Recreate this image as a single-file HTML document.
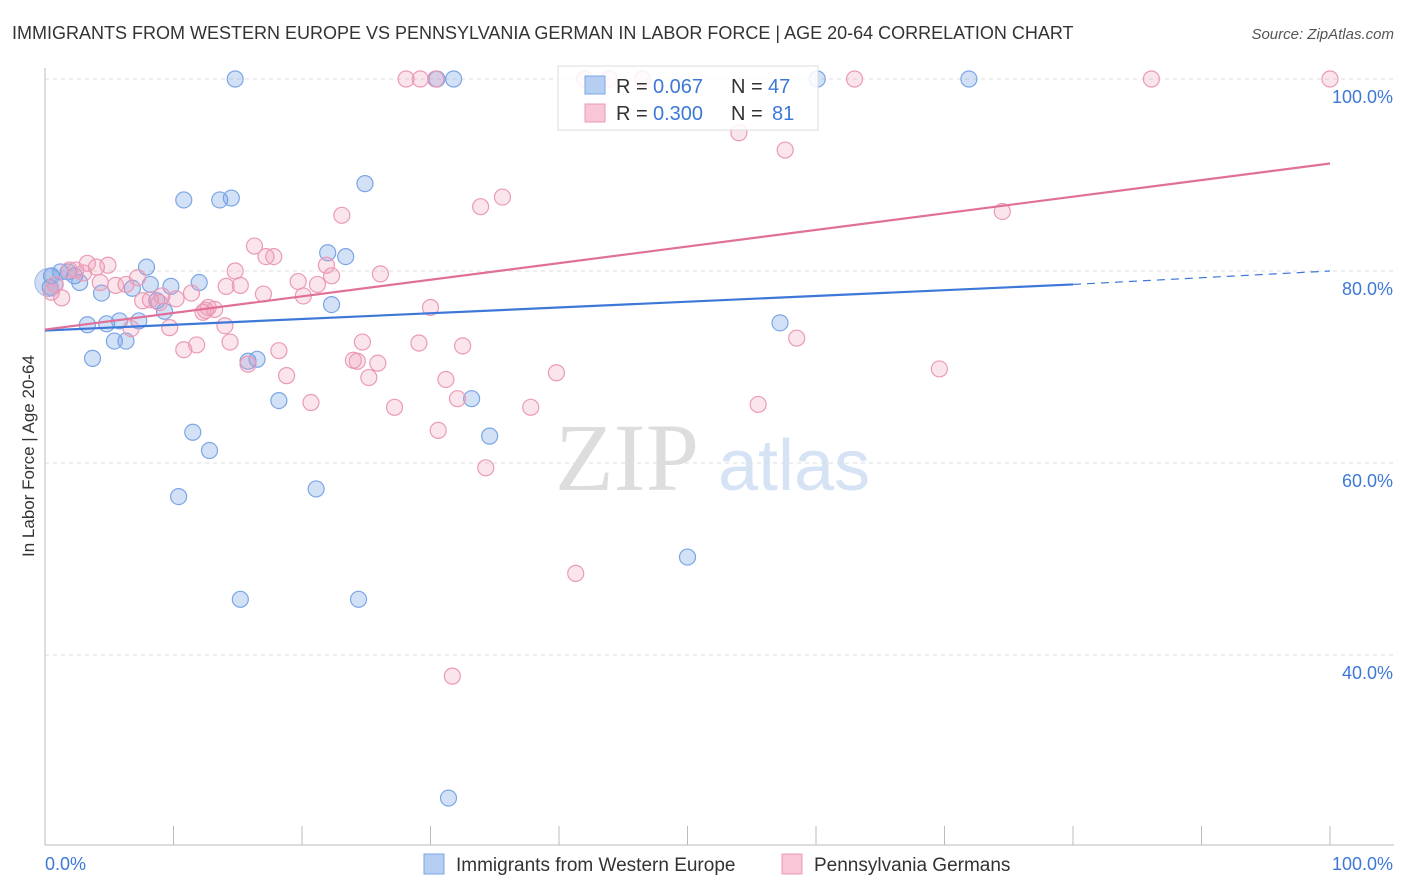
<!DOCTYPE html>
<html><head><meta charset="utf-8"><style>
body{margin:0;background:#fff;font-family:"Liberation Sans",sans-serif;}
svg{display:block}
</style></head><body>
<svg id="chart" width="1406" height="892" xmlns="http://www.w3.org/2000/svg">
<text x="12" y="39" font-size="18" fill="#333">IMMIGRANTS FROM WESTERN EUROPE VS PENNSYLVANIA GERMAN IN LABOR FORCE | AGE 20-64 CORRELATION CHART</text>
<text x="1394" y="39" font-size="15" fill="#555" font-style="italic" text-anchor="end">Source: ZipAtlas.com</text>
<text x="555" y="490" font-size="96" fill="#ddd" font-family="Liberation Serif,serif">ZIP</text>
<text x="718" y="490" font-size="72" fill="#d5e3f5">atlas</text>
<g id="grid"></g><g id="axes"></g><g id="pts"></g><g id="lines"></g>
<text transform="translate(34,456) rotate(-90)" font-size="17" fill="#333" text-anchor="middle">In Labor Force | Age 20-64</text>
<g>
<rect x="558" y="66" width="260" height="64" fill="rgba(255,255,255,0.85)" stroke="#ddd"/>
<rect x="585" y="76" width="20" height="18" fill="#b7cef3" stroke="#7aa6e6"/>
<text x="616" y="93" font-size="20" fill="#333">R =</text><text x="653" y="93" font-size="20" fill="#3d78d8">0.067</text>
<text x="731" y="93" font-size="20" fill="#333">N =</text><text x="768" y="93" font-size="20" fill="#3d78d8">47</text>
<rect x="585" y="104" width="20" height="18" fill="#f8c6d6" stroke="#eb9ab5"/>
<text x="616" y="120" font-size="20" fill="#333">R =</text><text x="653" y="120" font-size="20" fill="#3d78d8">0.300</text>
<text x="731" y="120" font-size="20" fill="#333">N =</text><text x="772" y="120" font-size="20" fill="#3d78d8">81</text>
</g>
<g>
<rect x="424" y="854" width="20" height="20" fill="#b7cef3" stroke="#7aa6e6"/>
<text x="456" y="871" font-size="19" fill="#333">Immigrants from Western Europe</text>
<rect x="782" y="854" width="20" height="20" fill="#f8c6d6" stroke="#eb9ab5"/>
<text x="814" y="871" font-size="19" fill="#333">Pennsylvania Germans</text>
</g>
</svg>
<script>
const blueX=[14.8,30.5,31.8,60.1,71.9,10.8,13.6,14.5,24.9,22,23.4,7.9,0.5,1.2,1.8,2.3,2.7,4.4,6.8,8.2,9.8,12,8.7,9.3,22.3,3.3,4.8,5.8,7.3,5.4,6.3,3.7,15.8,16.5,18.2,33.2,11.5,34.6,12.8,10.4,21.1,50,15.2,24.4,31.4,57.2,0.4];
const blueY=[100,100,100,100,100,87.4,87.4,87.6,89.1,81.9,81.5,80.4,79.5,79.9,79.9,79.5,78.8,77.7,78.2,78.6,78.4,78.8,76.9,75.8,76.5,74.4,74.5,74.8,74.8,72.7,72.7,70.9,70.6,70.8,66.5,66.7,63.2,62.8,61.3,56.5,57.3,50.2,45.8,45.8,25.1,74.6,78.3];
const pinkX=[28.1,29.2,30.4,42,43.9,46.5,63,86.1,100,54,57.6,35.6,33.9,23.1,74.5,16.3,17.2,17.8,14.8,21.9,22.3,26.1,19.7,21.2,20.1,17,3.3,4,4.9,2.4,3,5.5,6.3,7.2,0.5,1.3,0.8,11.4,8.2,9.1,10.2,12.7,13.2,12.3,6.7,9.7,14.1,30,14.4,11.8,10.8,18.2,24.7,29.1,32.5,15.8,24,25.9,24.3,18.8,25.2,20.7,27.2,31.2,39.8,32.1,37.8,55.5,58.5,69.6,30.6,34.3,41.3,31.7,8.9,7.6,4.3,1.9,15.2,12.5,14];
const pinkY=[100,100,100,100,100,100,100,100,100,94.4,92.6,87.7,86.7,85.8,86.2,82.6,81.5,81.5,80,80.6,79.5,79.7,78.9,78.6,77.4,77.6,80.8,80.4,80.6,80.1,79.8,78.5,78.6,79.3,77.8,77.2,78.6,77.7,77,77.4,77.1,76.2,76,75.7,74,74.1,78.4,76.2,72.6,72.3,71.8,71.7,72.6,72.5,72.2,70.3,70.7,70.4,70.6,69.1,68.9,66.3,65.8,68.7,69.4,66.7,65.8,66.1,73,69.8,63.4,59.5,48.5,37.8,76.7,76.9,78.8,80.1,78.5,75.9,74.3];
const xTicks=[0,10,20,30,40,50,60,70,80,90,100];
const yTicks=[40,60,80,100];
const yLabels=["40.0%","60.0%","80.0%","100.0%"];
const blueTrend=[73.8,78.6];
const blueTrendEnd=80.0;
const pinkTrend=[73.9,91.2];
const NS="http://www.w3.org/2000/svg";
const X=v=>45+v*12.85, Y=v=>79+(100-v)*9.6;
function mk(tag,attrs,parent){const e=document.createElementNS(NS,tag);for(const k in attrs)e.setAttribute(k,attrs[k]);document.getElementById(parent).appendChild(e);return e;}
yTicks.forEach((t,i)=>{
 const g=mk('line',{x1:45,x2:1394,y1:Y(t),y2:Y(t),stroke:'#ddd','stroke-dasharray':'4,4'},'grid');
 
 
 const l=mk('text',{x:1393,y:Y(t)+24,'font-size':18,fill:'#3d78d8','text-anchor':'end'},'grid');
 l.textContent=yLabels[i];
 
 
});
const ax=mk('line',{x1:45,x2:1394,y1:845,y2:845,stroke:'#bbb'},'axes');


const ay=mk('line',{x1:45,x2:45,y1:68,y2:845,stroke:'#bbb'},'axes');


xTicks.forEach(t=>{
 const tk=mk('line',{x1:X(t),x2:X(t),y1:826,y2:845,stroke:'#bbb'},'axes');
 
 
});
[["0.0%",45,'start'],["100.0%",1393,'end']].forEach(a=>{
 const t=mk('text',{x:a[1],y:870,'font-size':18,fill:'#3d78d8','text-anchor':a[2]},'axes');
 t.textContent=a[0];
 
 
});
const big=mk('circle',{cx:X(0.3),cy:Y(78.8),r:14,fill:'rgba(120,160,225,0.35)',stroke:'#9fb9e6'},'pts');


blueX.forEach((x,i)=>{
 const c=mk('circle',{cx:X(x),cy:Y(blueY[i]),r:8,fill:'rgba(110,155,230,0.3)',stroke:'#7aa6e6','stroke-width':1.2},'pts');
 
 
});
pinkX.forEach((x,i)=>{
 const c=mk('circle',{cx:X(x),cy:Y(pinkY[i]),r:8,fill:'rgba(240,150,180,0.25)',stroke:'#eb9ab5','stroke-width':1.2},'pts');
 
 
});
const bl=mk('line',{x1:X(0),y1:Y(blueTrend[0]),x2:X(80),y2:Y(blueTrend[1]),stroke:'#3d78d8','stroke-width':2.2},'lines');


const bd=mk('line',{x1:X(80),y1:Y(blueTrend[1]),x2:X(100),y2:Y(blueTrendEnd),stroke:'#3d78d8','stroke-width':1.2,'stroke-dasharray':'8,6'},'lines');


const pl=mk('line',{x1:X(0),y1:Y(pinkTrend[0]),x2:X(100),y2:Y(pinkTrend[1]),stroke:'#e0709a','stroke-width':2.2},'lines');


</script>
</body></html>
